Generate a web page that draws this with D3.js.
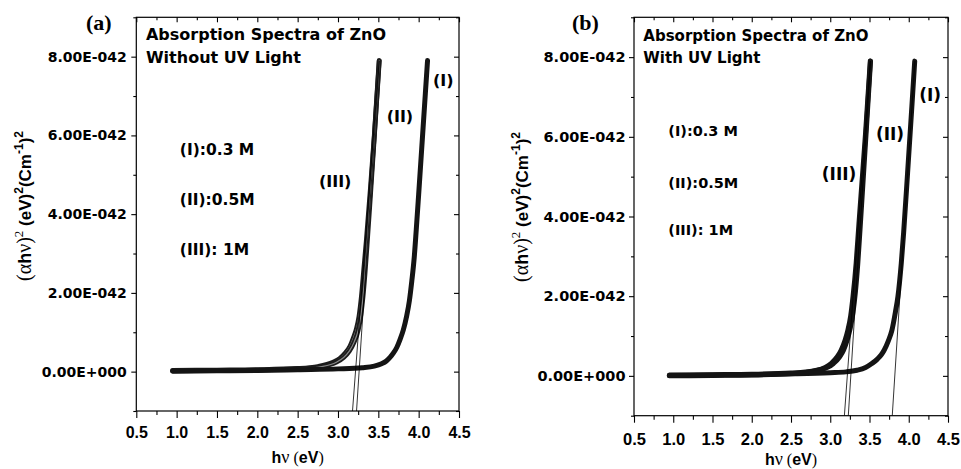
<!DOCTYPE html>
<html><head><meta charset="utf-8">
<script src="https://cdn.jsdelivr.net/npm/d3@7"></script>
<style>body{margin:0;background:#fff}svg{display:block}</style>
</head><body>
<svg id="c" width="961" height="469"></svg>
<script>
// ---------- DATA ----------
const xTickValues = [0.5,1.0,1.5,2.0,2.5,3.0,3.5,4.0,4.5];
const xTickLabels = ["0.5","1.0","1.5","2.0","2.5","3.0","3.5","4.0","4.5"];
const xMinorTicks = [0.75,1.25,1.75,2.25,2.75,3.25,3.75,4.25];
// y values in units of 1E-042
const yTickValues = [0,2,4,6,8];
const yTickLabels = ["0.00E+000","2.00E-042","4.00E-042","6.00E-042","8.00E-042"];
const yMinorTicks = [-1,1,3,5,7,9];
const curveLabels = ["(I)","(II)","(III)"];
const concentrationLabels = ["(I):0.3 M","(II):0.5M","(III): 1M"];
const panelTitlesA = ["Absorption Spectra of ZnO","Without UV Light"];
const panelTitlesB = ["Absorption Spectra of ZnO","With UV Light"];

// Panel (a): without UV light  [hv (eV), (ahv)^2 x1E-042]
const seriesA_I = [[0.95,0.01],[1.5,0.02],[2.0,0.03],[2.5,0.05],[3.0,0.07],[3.3,0.1],[3.45,0.14],[3.54,0.2],[3.6,0.27],[3.645,0.36],[3.69,0.48],[3.73,0.62],[3.77,0.82],[3.81,1.06],[3.85,1.4],[3.885,1.8],[3.915,2.3],[3.945,2.9],[3.97,3.6],[4.0,4.5],[4.055,6.2],[4.11,7.9]];
const seriesA_II = [[0.95,0.02],[1.5,0.03],[2.0,0.04],[2.5,0.07],[2.8,0.13],[2.98,0.24],[3.07,0.36],[3.14,0.52],[3.2,0.75],[3.25,1.05],[3.285,1.45],[3.31,1.9],[3.335,2.5],[3.36,3.2],[3.4,4.4],[3.45,5.95],[3.512,7.9]];
const seriesA_III = [[0.95,0.03],[1.5,0.04],[2.0,0.05],[2.5,0.08],[2.75,0.13],[2.94,0.24],[3.02,0.33],[3.09,0.47],[3.15,0.65],[3.19,0.85],[3.23,1.1],[3.26,1.4],[3.29,1.9],[3.32,2.6],[3.35,3.3],[3.4,4.6],[3.45,6.0],[3.51,7.9]];
const fitLinesA = [[[3.18,-1],[3.51,7.9]],[[3.23,-1],[3.512,7.9]]];

// Panel (b): with UV light
const seriesB_I = [[0.95,0.01],[1.5,0.02],[2.0,0.03],[2.5,0.05],[3.0,0.08],[3.2,0.1],[3.34,0.14],[3.45,0.21],[3.53,0.31],[3.6,0.42],[3.65,0.53],[3.688,0.65],[3.74,0.88],[3.786,1.15],[3.83,1.6],[3.862,1.99],[3.905,2.83],[3.935,3.6],[3.985,5.09],[4.04,6.77],[4.076,7.9]];
const seriesB_II = [[0.95,0.02],[1.5,0.03],[2.0,0.04],[2.5,0.07],[2.86,0.15],[3.04,0.31],[3.12,0.48],[3.17,0.65],[3.215,0.9],[3.255,1.2],[3.29,1.6],[3.32,2.1],[3.35,2.8],[3.38,3.7],[3.42,4.95],[3.46,6.2],[3.513,7.9]];
const seriesB_III = [[0.95,0.0],[1.5,0.01],[2.0,0.02],[2.5,0.05],[2.83,0.14],[3.01,0.31],[3.09,0.48],[3.14,0.65],[3.19,0.9],[3.225,1.15],[3.26,1.5],[3.29,1.99],[3.33,2.83],[3.365,3.8],[3.4,4.75],[3.45,6.1],[3.51,7.9]];
const fitLinesB = [[[3.18,-1],[3.51,7.9]],[[3.23,-1],[3.513,7.9]],[[3.79,-1],[4.078,7.9]]];

// ---------- DRAW ----------
const SANS = "'DejaVu Sans', Verdana, sans-serif";
const ARIAL = "'Liberation Sans', Arial, sans-serif";
const SERIF = "'Liberation Serif', 'Times New Roman', serif";
const svg = d3.select("#c");

const panels = [
  { letter:"(a)", letterPos:[86,29.5], left:136.3, right:459, top:17.3, bottom:411,
    series:[seriesA_III, seriesA_II, seriesA_I], styles:["open","open","solid"],
    fits:fitLinesA, titles:panelTitlesA, titlePos:[[0.62,8.42],[0.62,7.83]], titleSize:16,
    curveLabelPos:[[4.177,7.26],[3.603,6.35],[2.764,4.70]], curveLabelSize:16,
    concPos:[[1.04,5.50],[1.04,4.23],[1.04,2.96]], concSize:15.5,
    yFont:14, yPad:4.5, xFont:16, xPad:8.6, yTitle:[31,206], xTitle:463 },
  { letter:"(b)", letterPos:[572,29.5], left:634, right:948, top:17.3, bottom:415.7,
    series:[seriesB_III, seriesB_II, seriesB_I], styles:["solid","solid","solid"],
    fits:fitLinesB, titles:panelTitlesB, titlePos:[[0.619,8.40],[0.619,7.86]], titleSize:15,
    curveLabelPos:[[4.134,6.91],[3.582,5.93],[2.893,4.92]], curveLabelSize:17,
    concPos:[[0.937,6.01],[0.937,4.71],[0.937,3.54]], concSize:14.5,
    yFont:14.5, yPad:3.5, xFont:16.5, xPad:10.3, yTitle:[528,207], xTitle:465 }
];

function addPieces(textSel, pieces){
  pieces.forEach(p=>{
    const t = textSel.append("tspan").text(p.t)
      .attr("font-family", p.f).attr("font-size", p.s)
      .attr("font-weight", p.w || "normal");
    if (p.dy) t.attr("dy", p.dy);
  });
}

panels.forEach(p=>{
  const x = d3.scaleLinear().domain([0.5,4.5]).range([p.left,p.right]);
  const y = d3.scaleLinear().domain([-1,9]).range([p.bottom,p.top]);
  const g = svg.append("g");

  // data curves
  const line = d3.line().x(d=>x(d[0])).y(d=>y(d[1])).curve(d3.curveMonotoneX);
  p.series.forEach((s,i)=>{
    if (p.styles[i]==="open"){
      g.append("path").attr("d",line(s)).attr("fill","none")
        .attr("stroke","#1c1c1c").attr("stroke-width",4.8).attr("stroke-linecap","round").attr("stroke-linejoin","round");
      g.append("path").attr("d",line(s)).attr("fill","none")
        .attr("stroke","#8a8a8a").attr("stroke-width",1.2).attr("stroke-linecap","round");
    } else {
      g.append("path").attr("d",line(s)).attr("fill","none")
        .attr("stroke","#141414").attr("stroke-width",5).attr("stroke-linecap","round").attr("stroke-linejoin","round");
    }
  });

  // linear fits
  const fitLine = d3.line().x(d=>x(d[0])).y(d=>y(d[1]));
  p.fits.forEach(f=>{
    g.append("path").attr("d",fitLine(f)).attr("fill","none").attr("stroke","#000").attr("stroke-width",0.8);
  });

  // frame
  g.append("rect").attr("x",p.left).attr("y",p.top).attr("width",p.right-p.left).attr("height",p.bottom-p.top)
    .attr("fill","none").attr("stroke","#000").attr("stroke-width",1.2);

  function styleAxis(sel){
    sel.select(".domain").remove();
    sel.selectAll("line").attr("stroke","#000").attr("stroke-width",1.1);
  }
  // bottom
  const gx = g.append("g").attr("transform",`translate(0,${p.bottom})`)
    .call(d3.axisBottom(x).tickValues(xTickValues).tickFormat((d,i)=>xTickLabels[i]).tickSize(7).tickPadding(p.xPad));
  styleAxis(gx);
  gx.selectAll("text").attr("font-family",ARIAL).attr("font-weight","bold").attr("font-size",p.xFont).attr("fill","#000");
  const gxm = g.append("g").attr("transform",`translate(0,${p.bottom})`)
    .call(d3.axisBottom(x).tickValues(xMinorTicks).tickFormat("").tickSize(4));
  styleAxis(gxm);
  // top (inward)
  const gt = g.append("g").attr("transform",`translate(0,${p.top})`)
    .call(d3.axisTop(x).tickValues(xTickValues).tickFormat("").tickSize(-5));
  styleAxis(gt);
  const gtm = g.append("g").attr("transform",`translate(0,${p.top})`)
    .call(d3.axisTop(x).tickValues(xMinorTicks).tickFormat("").tickSize(-3));
  styleAxis(gtm);
  // left
  const gy = g.append("g").attr("transform",`translate(${p.left},0)`)
    .call(d3.axisLeft(y).tickValues(yTickValues).tickFormat((d,i)=>yTickLabels[i]).tickSize(5).tickPadding(p.yPad));
  styleAxis(gy);
  gy.selectAll("text").attr("font-family",SANS).attr("font-weight","bold").attr("font-size",p.yFont).attr("fill","#000");
  const gym = g.append("g").attr("transform",`translate(${p.left},0)`)
    .call(d3.axisLeft(y).tickValues(yMinorTicks).tickFormat("").tickSize(3));
  styleAxis(gym);
  // right (inward)
  const gr = g.append("g").attr("transform",`translate(${p.right},0)`)
    .call(d3.axisRight(y).tickValues(yTickValues).tickFormat("").tickSize(-5));
  styleAxis(gr);
  const grm = g.append("g").attr("transform",`translate(${p.right},0)`)
    .call(d3.axisRight(y).tickValues(yMinorTicks).tickFormat("").tickSize(-3));
  styleAxis(grm);

  // titles inside
  p.titles.forEach((t,i)=>{
    g.append("text").attr("x",x(p.titlePos[i][0])).attr("y",y(p.titlePos[i][1]))
      .attr("font-family",SANS).attr("font-weight","bold").attr("font-size",p.titleSize).text(t);
  });
  // curve labels
  curveLabels.forEach((t,i)=>{
    g.append("text").attr("x",x(p.curveLabelPos[i][0])).attr("y",y(p.curveLabelPos[i][1]))
      .attr("font-family",SANS).attr("font-weight","bold").attr("font-size",p.curveLabelSize).text(t);
  });
  // concentration labels
  concentrationLabels.forEach((t,i)=>{
    g.append("text").attr("x",x(p.concPos[i][0])).attr("y",y(p.concPos[i][1]))
      .attr("font-family",SANS).attr("font-weight","bold").attr("font-size",p.concSize).text(t);
  });

  // panel letter
  g.append("text").attr("x",p.letterPos[0]).attr("y",p.letterPos[1])
    .attr("font-family",SERIF).attr("font-weight","bold").attr("font-size",22).text(p.letter);

  // x title
  const xt = g.append("text").attr("x",(p.left+p.right)/2).attr("y",p.xTitle).attr("text-anchor","middle");
  addPieces(xt,[
    {t:"h",f:ARIAL,w:"bold",s:16},
    {t:"ν",f:SERIF,s:18},
    {t:" (",f:SERIF,s:16},
    {t:"eV",f:ARIAL,w:"bold",s:16},
    {t:")",f:SERIF,s:16}
  ]);

  // y title
  const yt = g.append("text").attr("text-anchor","middle")
    .attr("transform",`translate(${p.yTitle[0]},${p.yTitle[1]}) rotate(-90)`);
  addPieces(yt,[
    {t:"(",f:SERIF,s:20},
    {t:"α",f:SERIF,s:20},
    {t:"h",f:ARIAL,w:"bold",s:18},
    {t:"ν",f:SERIF,s:20},
    {t:")",f:SERIF,s:20},
    {t:"2",f:SERIF,s:13,dy:-8},
    {t:" (eV)",f:ARIAL,w:"bold",s:17,dy:8},
    {t:"2",f:ARIAL,w:"bold",s:12,dy:-8},
    {t:"(Cm",f:ARIAL,w:"bold",s:17,dy:8},
    {t:"-1",f:ARIAL,w:"bold",s:12,dy:-8},
    {t:")",f:ARIAL,w:"bold",s:17,dy:8},
    {t:"2",f:ARIAL,w:"bold",s:12,dy:-8}
  ]);
});
</script>
</body></html>
